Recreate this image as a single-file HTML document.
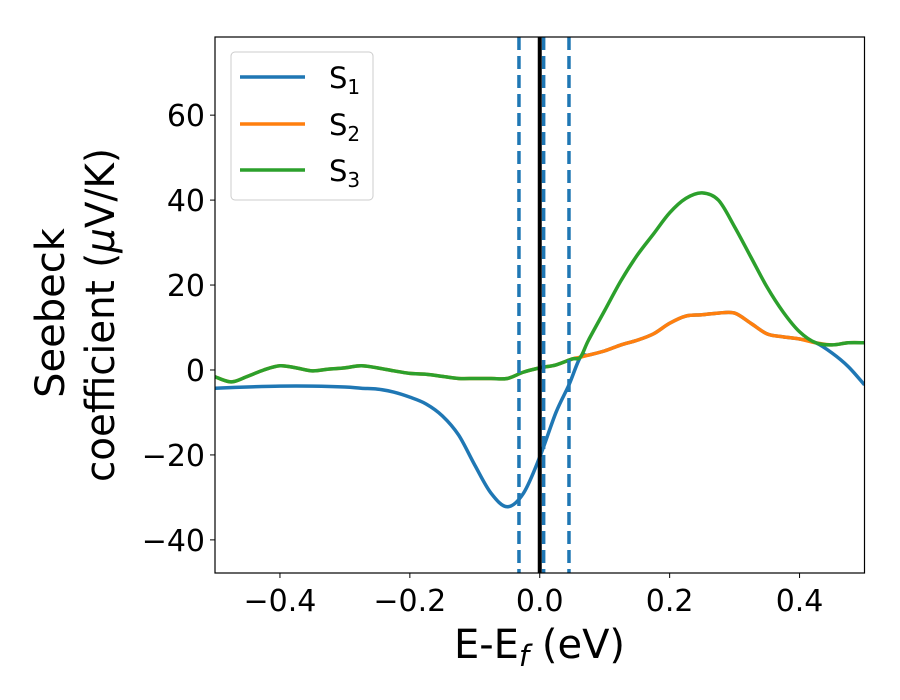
<!DOCTYPE html>
<html><head><meta charset="utf-8"><style>
html,body{margin:0;padding:0;background:#fff}
svg{display:block;font-family:"DejaVu Sans","Liberation Sans",sans-serif}
</style></head><body>
<svg id="chart" width="900" height="700" viewBox="0 0 900 700" style="position:absolute;left:0;top:0">
</svg>
<script>
const s1X=[-0.5,-0.45,-0.4,-0.35,-0.3,-0.275,-0.25,-0.225,-0.2,-0.175,-0.15,-0.125,-0.1,-0.075,-0.05,-0.025,0,0.025,0.045,0.0625,0.075,0.1,0.125,0.15,0.175,0.2,0.225,0.25,0.275,0.3,0.325,0.35,0.375,0.4,0.425,0.45,0.475,0.5];
const s1Y=[-4.3,-4,-3.8,-3.8,-4,-4.3,-4.5,-5.2,-6.4,-8,-10.8,-15.3,-22.4,-29,-32.2,-29,-20.5,-10,-3.5,3.0,3.5,4.5,5.9,7,8.5,11,12.7,13,13.4,13.4,11,8.5,7.8,7.3,6.4,4,0.8,-3.5];
const baseX=[-0.5,-0.475,-0.45,-0.425,-0.4,-0.375,-0.35,-0.325,-0.3,-0.275,-0.25,-0.225,-0.2,-0.175,-0.15,-0.125,-0.1,-0.075,-0.05,-0.025,0,0.025,0.05,0.0625];
const baseY=[-1.6,-2.8,-1.5,0,1,0.5,-0.2,0.2,0.5,1,0.5,-0.2,-0.8,-1,-1.5,-2,-2,-2,-2,-0.5,0.5,1.2,2.6,3.0];
const s2X=baseX.concat([0.075,0.1,0.125,0.15,0.175,0.2,0.225,0.25,0.275,0.3,0.325,0.35,0.375,0.4,0.425,0.45,0.475,0.5]);
const s2Y=baseY.concat([3.5,4.5,5.9,7,8.5,11,12.7,13,13.4,13.4,11,8.5,7.8,7.3,6.4,5.9,6.4,6.4]);
const s3X=baseX.concat([0.075,0.1,0.125,0.15,0.175,0.2,0.225,0.25,0.275,0.3,0.325,0.35,0.375,0.4,0.425,0.45,0.475,0.5]);
const s3Y=baseY.concat([7,14,21,27,32,37,40.4,41.7,40,33.7,26.6,19.5,13.6,9,6.4,5.9,6.4,6.4]);
const xTicks=[-0.4,-0.2,0.0,0.2,0.4];
const xTickLabels=["\u22120.4","\u22120.2","0.0","0.2","0.4"];
const yTicks=[-40,-20,0,20,40,60];
const yTickLabels=["\u221240","\u221220","0","20","40","60"];
const dashedX=[-0.032,0.006,0.045];
const fermiX=[0];
const seriesNames=["S1","S2","S3"];

const L=215,R=864.5,T=37,B=573;
const xmin=-0.5,xmax=0.5,ymin=-47.8,ymax=78.4;
const sx=v=>L+(v-xmin)/(xmax-xmin)*(R-L);
const sy=v=>B-(v-ymin)/(ymax-ymin)*(B-T);
const NS="http://www.w3.org/2000/svg";
const svg=document.getElementById('chart');
function mk(tag,attrs,parent){const e=document.createElementNS(NS,tag);for(const k in attrs)e.setAttribute(k,attrs[k]);(parent||svg).appendChild(e);return e;}
function smooth(xs,ys){
  const p=xs.map((x,i)=>[sx(x),sy(ys[i])]);
  let d=`M${p[0][0]},${p[0][1]}`;
  for(let i=0;i<p.length-1;i++){
    const p0=p[Math.max(0,i-1)],p1=p[i],p2=p[i+1],p3=p[Math.min(p.length-1,i+2)];
    const c1=[p1[0]+(p2[0]-p0[0])/6,p1[1]+(p2[1]-p0[1])/6];
    const c2=[p2[0]-(p3[0]-p1[0])/6,p2[1]-(p3[1]-p1[1])/6];
    d+=`C${c1[0]},${c1[1]} ${c2[0]},${c2[1]} ${p2[0]},${p2[1]}`;
  }
  return d;
}
const defs=mk('defs',{});
const cp=mk('clipPath',{id:'clip'},defs);
mk('rect',{x:L,y:T,width:R-L,height:B-T},cp);
const g=mk('g',{'clip-path':'url(#clip)'});
const colors=["#1f77b4","#ff7f0e","#2ca02c"];
const XS=[s1X,s2X,s3X],YS=[s1Y,s2Y,s3Y];
for(let i=0;i<3;i++){
  const el=mk('path',{d:smooth(XS[i],YS[i]),fill:'none',stroke:colors[i],'stroke-width':3.5,'stroke-linejoin':'round'},g);
  
  
}
dashedX.forEach((v,i)=>{
  const el=mk('line',{x1:sx(v),x2:sx(v),y1:T,y2:B,stroke:'#1f77b4','stroke-width':3.5,'stroke-dasharray':'13,6'},g);
  
  
});
fermiX.forEach(v=>{
  const el=mk('line',{x1:sx(v),x2:sx(v),y1:T,y2:B,stroke:'#000','stroke-width':4},g);
  
  
});
const frame=mk('rect',{x:L,y:T,width:R-L,height:B-T,fill:'none',stroke:'#000','stroke-width':1.2});


xTicks.forEach((v,i)=>{
  const tk=mk('line',{x1:sx(v),x2:sx(v),y1:B,y2:B+5,stroke:'#000','stroke-width':1});
  
  
  const t=mk('text',{x:sx(v),y:B+38,'text-anchor':'middle','font-size':30});
  t.textContent=xTickLabels[i];
  
  
});
yTicks.forEach((v,i)=>{
  const tk=mk('line',{x1:L-5,x2:L,y1:sy(v),y2:sy(v),stroke:'#000','stroke-width':1});
  
  
  const t=mk('text',{x:L-10,y:sy(v)+11,'text-anchor':'end','font-size':30});
  t.textContent=yTickLabels[i];
  
  
});
</script>
<svg width="900" height="700" style="position:absolute;left:0;top:0;font-family:'DejaVu Sans','Liberation Sans',sans-serif">
<text x="539.5" y="658" text-anchor="middle" font-size="40">E-E<tspan font-style="italic" font-size="29" dy="8">f</tspan><tspan dy="-8"> (eV)</tspan></text>
<text transform="translate(64,313) rotate(-90)" text-anchor="middle" font-size="40">Seebeck</text>
<text transform="translate(114,315) rotate(-90)" text-anchor="middle" font-size="40" textLength="334" lengthAdjust="spacingAndGlyphs">coefficient (<tspan font-style="italic">μ</tspan>V/K)</text>
<g>
<rect x="231" y="52" width="142" height="148" rx="4" fill="#fff" fill-opacity="0.8" stroke="#ccc" stroke-width="1"/>
<line x1="240" x2="305" y1="77" y2="77" stroke="#1f77b4" stroke-width="3.5"/>
<text x="329" y="88" font-size="29">S<tspan font-size="20" dy="6">1</tspan></text>
<line x1="240" x2="305" y1="124" y2="124" stroke="#ff7f0e" stroke-width="3.5"/>
<text x="329" y="135" font-size="29">S<tspan font-size="20" dy="6">2</tspan></text>
<line x1="240" x2="305" y1="170" y2="170" stroke="#2ca02c" stroke-width="3.5"/>
<text x="329" y="181" font-size="29">S<tspan font-size="20" dy="6">3</tspan></text>
</g>
</svg>
</body></html>
